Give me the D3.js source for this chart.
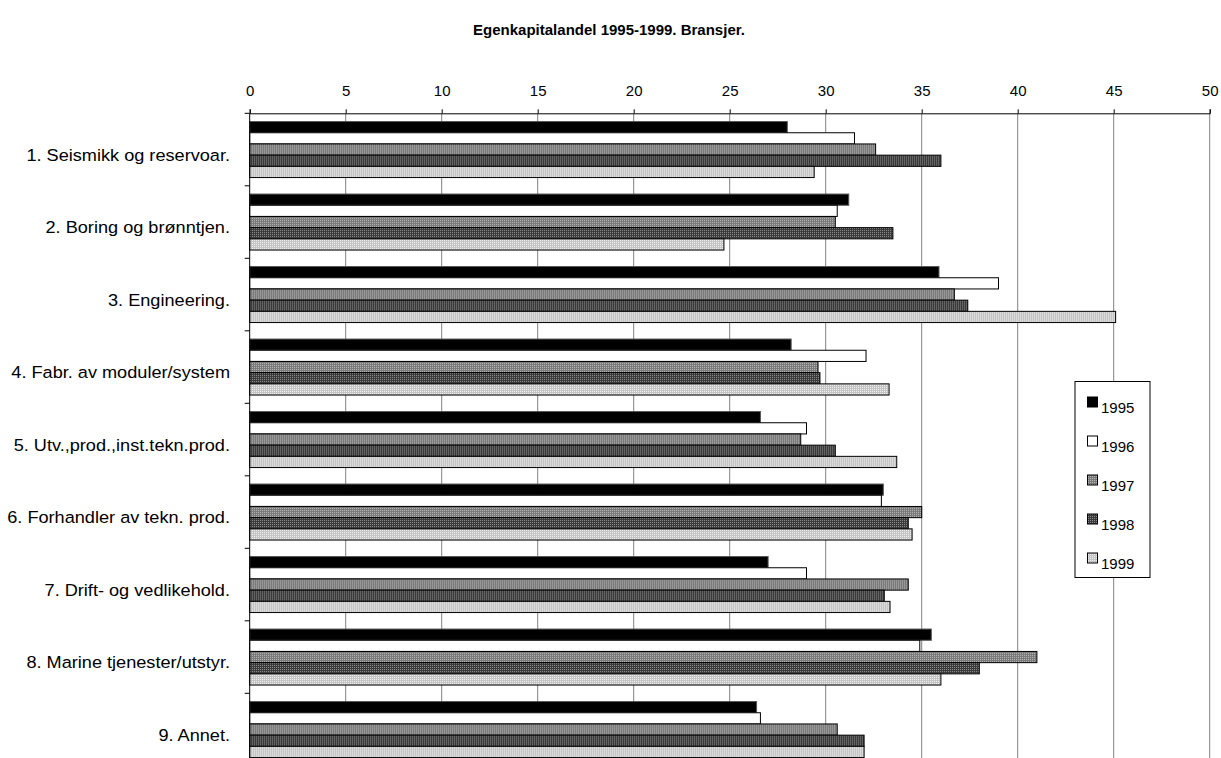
<!DOCTYPE html>
<html>
<head>
<meta charset="utf-8">
<script src="https://cdn.jsdelivr.net/npm/d3@7"></script>
<style>
  html, body { margin: 0; padding: 0; background: #fff; }
  svg { display: block; font-family: "Liberation Sans", Arial, sans-serif; }
</style>
</head>
<body>
<svg id="chart" width="1221" height="758"></svg>
<script>
// Equity share by industry segment, 1995-1999
const categories = [
  "1. Seismikk og reservoar.",
  "2. Boring og brønntjen.",
  "3. Engineering.",
  "4. Fabr. av moduler/system",
  "5. Utv.,prod.,inst.tekn.prod.",
  "6. Forhandler av tekn. prod.",
  "7. Drift- og vedlikehold.",
  "8. Marine tjenester/utstyr.",
  "9. Annet."
];
const years = ["1995", "1996", "1997", "1998", "1999"];
const v1995 = [28.0, 31.2, 35.9, 28.2, 26.6, 33.0, 27.0, 35.5, 26.4];
const v1996 = [31.5, 30.6, 39.0, 32.1, 29.0, 32.9, 29.0, 34.9, 26.6];
const v1997 = [32.6, 30.5, 36.7, 29.6, 28.7, 35.0, 34.3, 41.0, 30.6];
const v1998 = [36.0, 33.5, 37.4, 29.7, 30.5, 34.3, 33.05, 38.0, 32.0];
const v1999 = [29.4, 24.7, 45.1, 33.3, 33.7, 34.5, 33.35, 36.0, 32.0];
const xTicks = [0, 5, 10, 15, 20, 25, 30, 35, 40, 45, 50];
const title = "Egenkapitalandel 1995-1999. Bransjer.";

const seriesValues = [v1995, v1996, v1997, v1998, v1999];

const svg = d3.select("#chart");
const defs = svg.append("defs");

// Dotted fills for the textured series
function dotPattern(id, base, dot) {
  const p = defs.append("pattern")
    .attr("id", id).attr("patternUnits", "userSpaceOnUse")
    .attr("width", 4).attr("height", 4);
  p.append("rect").attr("width", 4).attr("height", 4).attr("fill", base);
  [[0, 0], [2, 2], [2, 0], [0, 2]].forEach(([px, py]) =>
    p.append("rect").attr("x", px).attr("y", py)
      .attr("width", 1).attr("height", 1).attr("fill", dot));
}
dotPattern("p1997", "#7a7a7a", "#b4b4b4");
dotPattern("p1998", "#3a3a3a", "#8c8c8c");
dotPattern("p1999", "#c4c4c4", "#f0f0f0");

const fills = {
  "1995": "#000000",
  "1996": "#ffffff",
  "1997": "url(#p1997)",
  "1998": "url(#p1998)",
  "1999": "url(#p1999)"
};

const plotTop = 113.3, step = 72.5;
const x = d3.scaleLinear().domain([0, 50]).range([249.7, 1209.7]);
const y = d3.scaleBand().domain(categories)
  .range([plotTop, plotTop + step * categories.length])
  .paddingInner(0.2276).paddingOuter(0.1138);
const yInner = d3.scaleBand().domain(years).range([0, y.bandwidth()]);
const plotBottom = plotTop + step * categories.length;

// Title
svg.append("text")
  .attr("x", 609).attr("y", 35)
  .attr("text-anchor", "middle")
  .attr("font-weight", "bold").attr("font-size", 15)
  .text(title);

// Vertical gridlines
svg.append("g").selectAll("line")
  .data(xTicks.filter(d => d > 0))
  .join("line")
  .attr("x1", d => x(d)).attr("x2", d => x(d))
  .attr("y1", plotTop).attr("y2", plotBottom)
  .attr("stroke", "#808080").attr("stroke-width", 1);

// Top value axis
const xAxis = svg.append("g")
  .attr("transform", `translate(0,${plotTop})`)
  .call(d3.axisTop(x).tickValues(xTicks).tickSize(4).tickPadding(13).tickFormat(d3.format("d")));
xAxis.select(".domain").attr("stroke", "#000");
xAxis.selectAll(".tick line").attr("stroke", "#000");
xAxis.selectAll(".tick text").attr("font-size", 15).attr("fill", "#000")
  .attr("font-family", "Liberation Sans, Arial, sans-serif");

// Bars
const groups = svg.append("g").selectAll("g")
  .data(categories)
  .join("g")
  .attr("transform", c => `translate(0,${y(c)})`);

groups.selectAll("rect")
  .data((c, i) => years.map((yr, k) => ({ yr, v: seriesValues[k][i] })))
  .join("rect")
  .attr("x", x(0))
  .attr("y", d => yInner(d.yr))
  .attr("width", d => x(d.v) - x(0))
  .attr("height", yInner.bandwidth())
  .attr("fill", d => fills[d.yr])
  .attr("stroke", d => d.yr === "1995" ? "#555" : "#000")
  .attr("stroke-width", 1);

// Left category axis
svg.append("line")
  .attr("x1", x(0)).attr("x2", x(0))
  .attr("y1", plotTop).attr("y2", plotBottom)
  .attr("stroke", "#000");
svg.append("g").selectAll("line")
  .data(d3.range(categories.length + 1))
  .join("line")
  .attr("x1", x(0) - 5).attr("x2", x(0))
  .attr("y1", i => plotTop + i * step).attr("y2", i => plotTop + i * step)
  .attr("stroke", "#000");
// Category labels, slightly widened type
svg.append("g").selectAll("text")
  .data(categories)
  .join("text")
  .attr("transform", c => `translate(230,${y(c) + y.bandwidth() / 2 + 11.4}) scale(1.1,1)`)
  .attr("text-anchor", "end")
  .attr("font-size", 16.5)
  .text(c => c);

// Legend
const legend = svg.append("g");
legend.append("rect")
  .attr("x", 1075).attr("y", 381.5).attr("width", 75).attr("height", 196)
  .attr("fill", "#fff").attr("stroke", "#000");
const ly = d3.scalePoint().domain(years).range([402, 558]);
legend.selectAll("rect.sw")
  .data(years).join("rect").attr("class", "sw")
  .attr("x", 1087.5).attr("y", d => ly(d) - 5)
  .attr("width", 10).attr("height", 10)
  .attr("fill", d => fills[d]).attr("stroke", "#000");
legend.selectAll("text")
  .data(years).join("text")
  .attr("x", 1101).attr("y", d => ly(d) + 11)
  .attr("font-size", 15)
  .text(d => d);
</script>
</body>
</html>
